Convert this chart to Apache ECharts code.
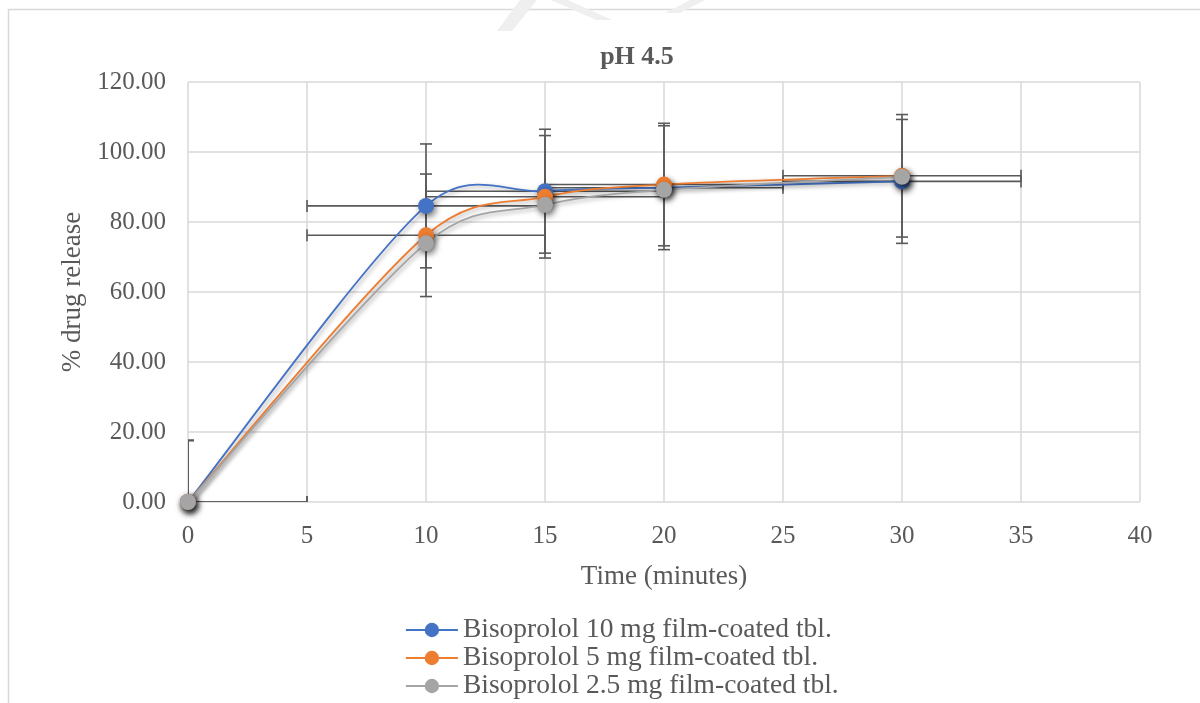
<!DOCTYPE html>
<html>
<head>
<meta charset="utf-8">
<script src="https://cdn.jsdelivr.net/npm/echarts@6/dist/echarts.min.js"></script>
<style>
  html, body { margin: 0; padding: 0; background: #fff; }
  #chart { width: 1200px; height: 703px; }
</style>
</head>
<body>
<div id="chart"></div>
<script>
// sampling times (minutes)
const timePoints = [0, 10, 15, 20, 30];
// % drug release
const release10 = [0, 84.6, 88.8, 89.8, 91.6];
const release5 = [0, 76.2, 87.2, 90.7, 93.2];
const release25 = [0, 73.9, 84.9, 89.2, 92.9];
// error bars (only the 10 mg and 5 mg series have them)
const yErr10 = [17.7, 17.7, 17.7, 17.7, 17.7];
const yErr5 = [17.5, 17.5, 17.5, 17.5, 17.5];
const xErr = [5, 5, 5, 5, 5];

const seriesNames = [
  'Bisoprolol 10 mg film-coated tbl.',
  'Bisoprolol 5 mg film-coated tbl.',
  'Bisoprolol 2.5 mg film-coated tbl.'
];
const colors = ['#4472C4', '#ED7D31', '#A5A5A5'];
const xTicks = [0, 5, 10, 15, 20, 25, 30, 35, 40];

const FONT = '"Liberation Serif", "Times New Roman", serif';
const TEXT = '#595959';

function pairs(ys) {
  return timePoints.map((t, i) => [t, ys[i]]);
}
function errRows(ys, ey) {
  return timePoints.map((t, i) => [t, ys[i], xErr[i], ey[i]]);
}

function renderErr(params, api) {
  const x = api.value(0), y = api.value(1);
  const ex = api.value(2), ey = api.value(3);
  const top = api.coord([x, y + ey]);
  const bot = api.coord([x, y - ey]);
  const lft = api.coord([x - ex, y]);
  const rgt = api.coord([x + ex, y]);
  const cap = 6;
  const style = { stroke: '#595959', lineWidth: 1.6 };
  const seg = (x1, y1, x2, y2) => ({ type: 'line', shape: { x1, y1, x2, y2 }, style });
  return {
    type: 'group',
    children: [
      seg(top[0], top[1], bot[0], bot[1]),
      seg(top[0] - cap, top[1], top[0] + cap, top[1]),
      seg(bot[0] - cap, bot[1], bot[0] + cap, bot[1]),
      seg(lft[0], lft[1], rgt[0], rgt[1]),
      seg(lft[0], lft[1] - cap, lft[0], lft[1] + cap),
      seg(rgt[0], rgt[1] - cap, rgt[0], rgt[1] + cap)
    ]
  };
}

// tangent (next - prev) / 6, but never longer than half the segment
function tangent(a, b, chord) {
  let tx = (b[0] - a[0]) / 6, ty = (b[1] - a[1]) / 6;
  const len = Math.hypot(tx, ty), lim = chord * 0.5;
  if (len > lim) { tx *= lim / len; ty *= lim / len; }
  return [tx, ty];
}

// Excel-style smoothed line, one bezier per segment
function smoothCurve(ys, color) {
  return {
    type: 'custom',
    data: pairs(ys),
    z: 3,
    silent: true,
    clip: true,
    renderItem: function (params, api) {
      const i = params.dataIndex;
      const n = timePoints.length;
      if (i >= n - 1) return null;
      const P = timePoints.map((t, k) => api.coord([t, ys[k]]));
      const p0 = P[Math.max(i - 1, 0)], p1 = P[i], p2 = P[i + 1], p3 = P[Math.min(i + 2, n - 1)];
      const chord = Math.hypot(p2[0] - p1[0], p2[1] - p1[1]);
      const t1 = tangent(p0, p2, chord), t2 = tangent(p1, p3, chord);
      return {
        type: 'bezierCurve',
        shape: {
          x1: p1[0], y1: p1[1], x2: p2[0], y2: p2[1],
          cpx1: p1[0] + t1[0], cpy1: p1[1] + t1[1],
          cpx2: p2[0] - t2[0], cpy2: p2[1] - t2[1]
        },
        style: {
          fill: 'none', stroke: color, lineWidth: 1.8,
          shadowColor: 'rgba(0,0,0,0.35)', shadowBlur: 4, shadowOffsetX: 2, shadowOffsetY: 2
        }
      };
    }
  };
}

function markerSeries(name, ys, color) {
  return {
    name: name,
    type: 'line',
    data: pairs(ys),
    symbol: 'circle',
    symbolSize: 16,
    z: 4,
    lineStyle: { color: color, width: 1.8, opacity: 0 },
    itemStyle: {
      color: color,
      shadowColor: 'rgba(0,0,0,0.55)', shadowBlur: 6, shadowOffsetX: 2, shadowOffsetY: 3
    },
    emphasis: { disabled: true }
  };
}

const chart = echarts.init(document.getElementById('chart'));
const option = {
  animation: false,
  backgroundColor: '#fff',
  title: {
    text: 'pH 4.5',
    left: 632, top: 39,
    textAlign: 'center',
    textStyle: { fontFamily: FONT, fontSize: 26, fontWeight: 'bold', color: TEXT }
  },
  grid: { left: 188, right: 60, top: 82, bottom: 201 },
  legend: {
    orient: 'vertical',
    left: 405, top: 616,
    padding: 0,
    itemWidth: 52, itemHeight: 18, itemGap: 0,
    data: seriesNames,
    lineStyle: { opacity: 1, width: 1.8 },
    itemStyle: { shadowBlur: 0, shadowOffsetX: 0, shadowOffsetY: 0 },
    textStyle: { fontFamily: FONT, fontSize: 27.5, color: TEXT, lineHeight: 27 }
  },
  xAxis: {
    type: 'value',
    min: 0, max: 40, interval: 5,
    name: 'Time (minutes)',
    nameLocation: 'middle',
    nameGap: 61,
    nameTextStyle: { fontFamily: FONT, fontSize: 27, color: TEXT },
    axisLine: { show: false },
    axisTick: { show: false },
    axisLabel: { fontFamily: FONT, fontSize: 25, color: TEXT, margin: 22,
      formatter: v => xTicks.includes(v) ? String(v) : '' },
    splitLine: { show: true, lineStyle: { color: '#D9D9D9', width: 1.5 } }
  },
  yAxis: {
    type: 'value',
    min: 0, max: 120, interval: 20,
    name: '% drug release',
    nameLocation: 'middle',
    nameGap: 101,
    nameTextStyle: { fontFamily: FONT, fontSize: 27, color: TEXT },
    axisLine: { show: false },
    axisTick: { show: false },
    axisLabel: { fontFamily: FONT, fontSize: 25, color: TEXT, margin: 22,
      formatter: v => v.toFixed(2) },
    splitLine: { show: true, lineStyle: { color: '#D9D9D9', width: 1.5 } }
  },
  graphic: [
    { type: 'rect', z: 0, shape: { x: 8.5, y: 9.5, width: 1300, height: 800 },
      style: { fill: 'none', stroke: '#D9D9D9', lineWidth: 1.5 }, silent: true },
    // faint watermark strokes at the top
    { type: 'polygon', z: 100, shape: { points: [[520, 0], [537, 0], [512, 31], [497, 31]] },
      style: { fill: '#EFEFEF' }, silent: true },
    { type: 'polygon', z: 100, shape: { points: [[551, 0], [568, 0], [612, 20], [596, 20]] },
      style: { fill: '#EFEFEF' }, silent: true },
    { type: 'polygon', z: 100, shape: { points: [[690, 0], [705, 0], [680, 13], [665, 13]] },
      style: { fill: '#EFEFEF' }, silent: true }
  ],
  series: [
    { type: 'custom', data: errRows(release10, yErr10),
      renderItem: renderErr, clip: true, z: 2, silent: true },
    { type: 'custom', data: errRows(release5, yErr5),
      renderItem: renderErr, clip: true, z: 2, silent: true },
    smoothCurve(release10, colors[0]),
    smoothCurve(release5, colors[1]),
    smoothCurve(release25, colors[2]),
    markerSeries(seriesNames[0], release10, colors[0]),
    markerSeries(seriesNames[1], release5, colors[1]),
    markerSeries(seriesNames[2], release25, colors[2])
  ]
};
chart.setOption(option);
</script>
</body>
</html>
